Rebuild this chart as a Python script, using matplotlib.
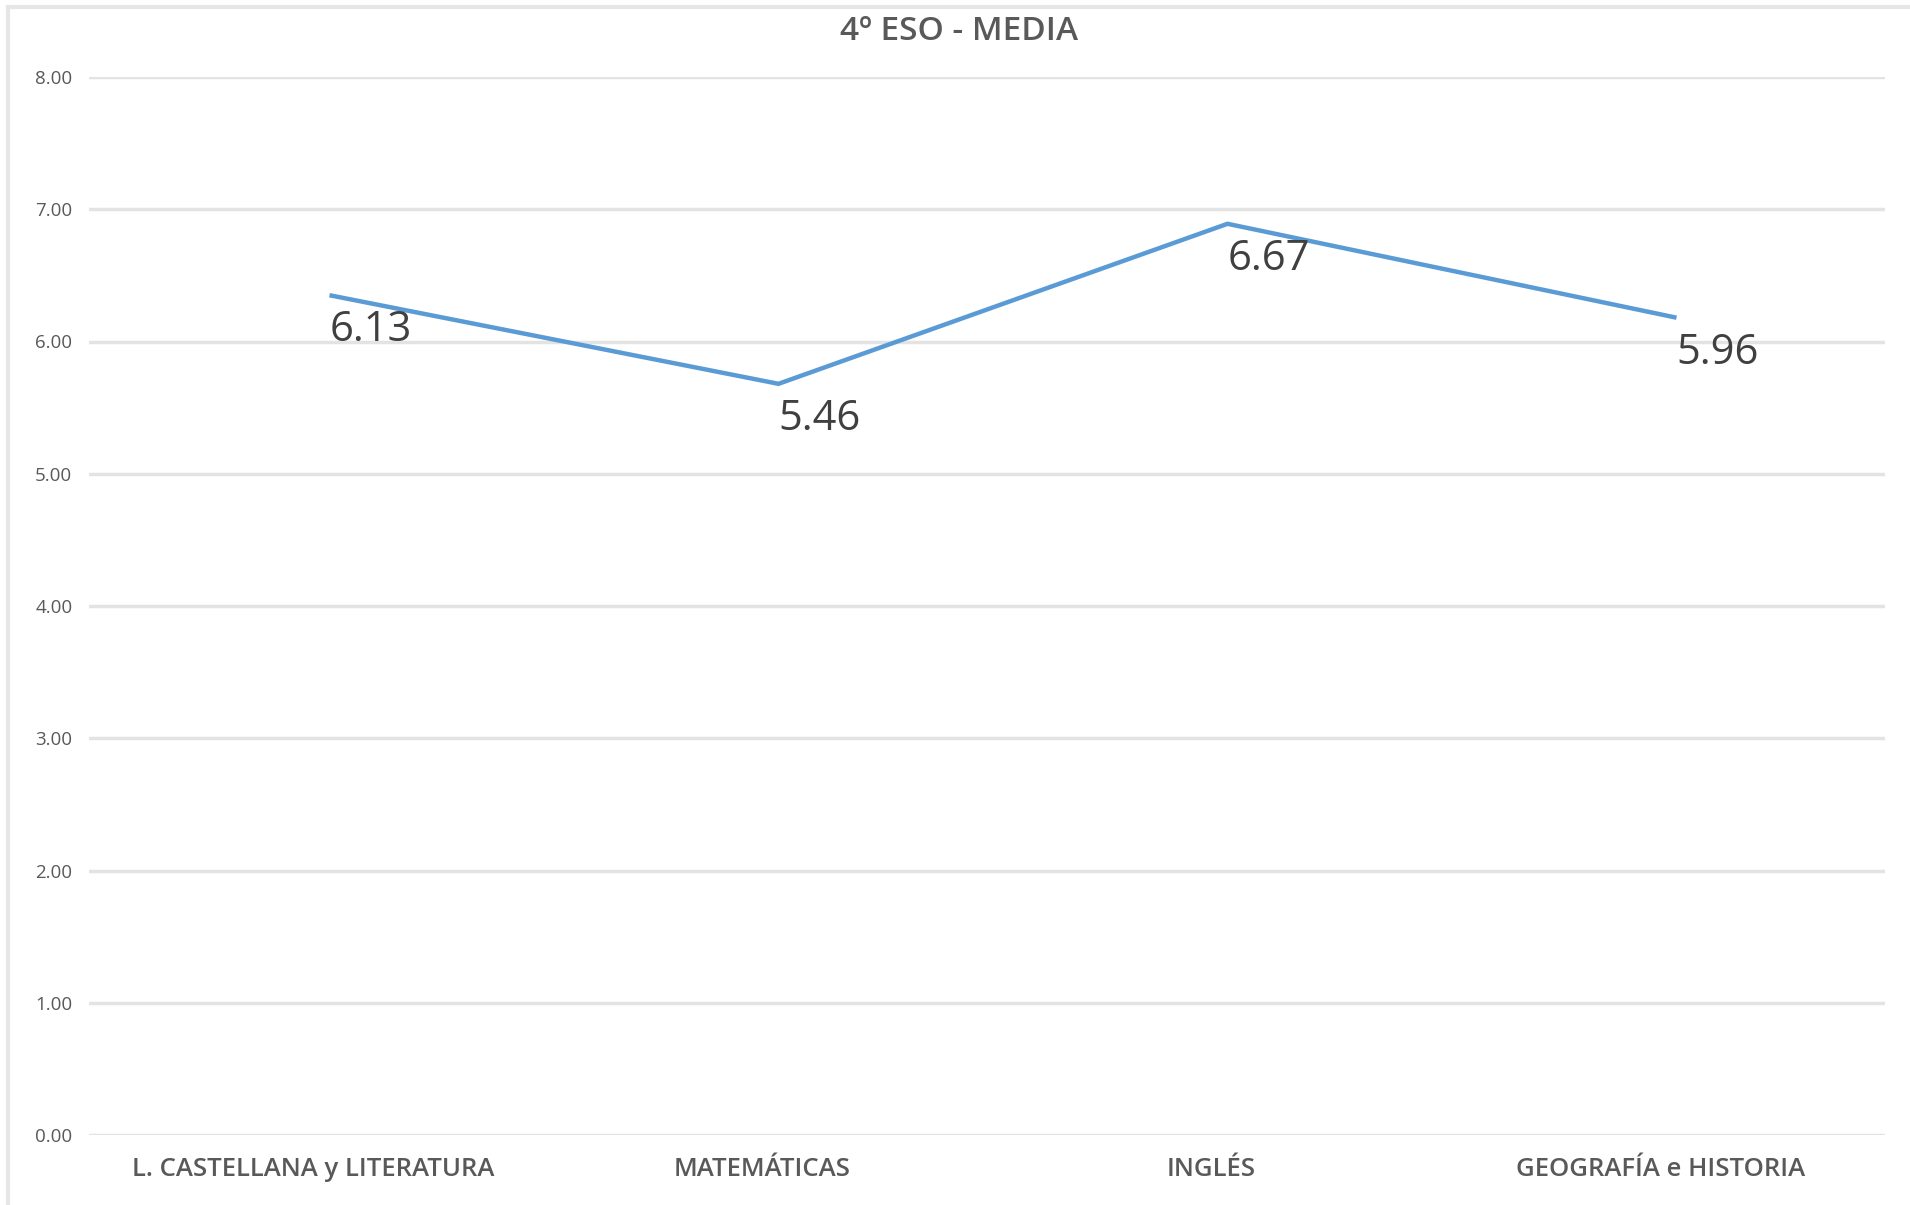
import matplotlib.pyplot as plt
from matplotlib.patches import Rectangle
import matplotlib.transforms as mtransforms

# ---------------- DATA ----------------
subjects = ["L. CASTELLANA y LITERATURA", "MATEMÁTICAS", "INGLÉS", "GEOGRAFÍA e HISTORIA"]
line_values = [6.35, 5.68, 6.89, 6.18]     # where the line is drawn
label_values = [6.13, 5.46, 6.67, 5.96]    # printed data labels
y_ticks = [0, 1, 2, 3, 4, 5, 6, 7, 8]

# ---------------- STYLE ----------------
plt.rcParams['font.family'] = ['Open Sans', 'DejaVu Sans']
BLUE = "#5B9BD5"
GRID = "#E3E3E3"
TEXT = "#595959"

W, H = 1910, 1205
fig = plt.figure(figsize=(W / 100, H / 100), dpi=100)

# chart border
fig.patches.append(Rectangle((8 / W, -0.01), 1.0, 1 - 7 / H + 0.01, transform=fig.transFigure,
                             fill=False, edgecolor="#E6E6E6", linewidth=3))

left, right, top, bottom = 89, 1885, 77, 1135
ax = fig.add_axes([left / W, 1 - bottom / H, (right - left) / W, (bottom - top) / H])

x = list(range(len(subjects)))
# line points sit slightly right of the category centre, as in the original
shift = mtransforms.offset_copy(ax.transData, fig=fig, x=16, y=0, units='dots')
label_shift = mtransforms.offset_copy(ax.transData, fig=fig, x=16, y=-6, units='dots')
ax.plot(x, line_values, color=BLUE, linewidth=3.2, transform=shift,
        solid_joinstyle='miter', solid_capstyle='butt', zorder=3)

for xi, v in zip(x, label_values):
    ax.text(xi, v, f"{v:.2f}", transform=label_shift, ha='left', va='center',
            fontsize=30, color="#404040", zorder=4)

ax.set_xlim(-0.5, 3.5)
ax.set_ylim(0, 8)
ax.set_yticks(y_ticks)
ax.set_yticklabels([f"{t:.2f}" for t in y_ticks], fontsize=13.5, color=TEXT)
ax.set_xticks(x)
ax.set_xticklabels(subjects, fontsize=18.5, color=TEXT, fontweight='semibold')
ax.tick_params(length=0, pad=12)
ax.tick_params(axis='x', pad=16)
ax.grid(axis='y', color=GRID, linewidth=2.5)
ax.set_axisbelow(True)
for s in ax.spines.values():
    s.set_visible(False)

fig.text(959 / W, 1 - 31 / H, "4º ESO - MEDIA", ha='center', va='center',
         fontsize=24, color=TEXT, fontweight='semibold')

fig.savefig("out.png", dpi=100, facecolor="white")
